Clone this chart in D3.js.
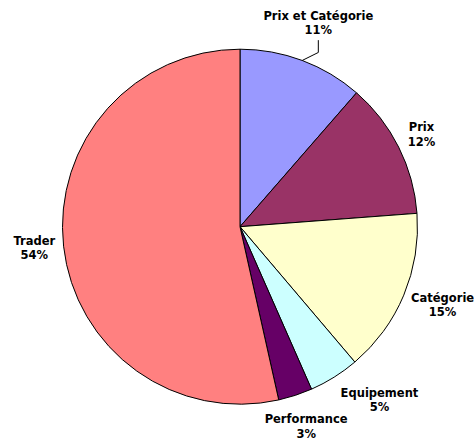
<!DOCTYPE html>
<html>
<head>
<meta charset="utf-8">
<script src="https://cdn.jsdelivr.net/npm/d3@7"></script>
<style>
  body { margin: 0; background: #fff; }
  #chartArea { width: 474px; height: 440px; overflow: hidden; }
</style>
</head>
<body>
<div id="chartArea"></div>
<script>
// slices, clockwise from 12 o'clock
const categories = ['Prix et Catégorie', 'Prix', 'Catégorie', 'Equipement', 'Performance', 'Trader']
const values = [11.4, 12.4, 15.0, 4.6, 3.1, 53.5]
const colors = ['#9999FF', '#993366', '#FFFFCC', '#CCFFFF', '#660066', '#FF8080']

const width = 474
const height = 440
const cx = 240
const cy = 226.7
const radius = 177.5
const labelR = 212
// hand nudges of the labels away from their polar spot (layout only)
const labelShift = [[4, -5], [-8, 3], [7, -3], [27, -6], [0, -1.5], [5, -1.5]]

const data = categories.map((c, i) => ({ name: c, value: values[i], color: colors[i] }))

const svg = d3
  .select('#chartArea')
  .append('svg')
  .attr('width', width)
  .attr('height', height)

const g = svg.append('g').attr('transform', `translate(${cx},${cy})`)

const pie = d3.pie().sort(null).value(d => d.value)
const arcs = pie(data)
const arc = d3.arc().innerRadius(0).outerRadius(radius)

// slices
g.selectAll('path.slice')
  .data(arcs)
  .join('path')
  .attr('class', 'slice')
  .attr('d', arc)
  .attr('fill', d => d.data.color)
  .attr('stroke', '#000')
  .attr('stroke-width', 1)
  .attr('stroke-linejoin', 'round')

const total = d3.sum(values)
const midAngle = d => (d.startAngle + d.endAngle) / 2
const labelPos = d => {
  const a = midAngle(d)
  const s = labelShift[d.index]
  return [labelR * Math.sin(a) + s[0], -labelR * Math.cos(a) + s[1]]
}

// labels
const labels = g.selectAll('g.label')
  .data(arcs)
  .join('g')
  .attr('class', 'label')
  .attr('transform', d => `translate(${labelPos(d)})`)

labels.append('text')
  .attr('text-anchor', 'middle')
  .attr('font-family', 'Verdana, "DejaVu Sans", sans-serif')
  .attr('font-weight', 'bold')
  .attr('font-size', '11.5px')
  .attr('fill', '#000')
  .each(function (d) {
    const t = d3.select(this)
    t.append('tspan').attr('x', 0).attr('y', -3.5).text(d.data.name)
    t.append('tspan').attr('x', 0).attr('y', 11).text(Math.round(d.data.value / total * 100) + '%')
  })

// leader line for the first (moved) label
const first = arcs[0]
const a0 = midAngle(first)
const [lx, ly] = labelPos(first)
const px = radius * Math.sin(a0)
const py = -radius * Math.cos(a0)
g.append('polyline')
  .attr('points', `${lx},${ly + 17} ${lx},${py - 8} ${px},${py}`)
  .attr('fill', 'none')
  .attr('stroke', '#000')
  .attr('stroke-width', 1)
</script>
</body>
</html>
